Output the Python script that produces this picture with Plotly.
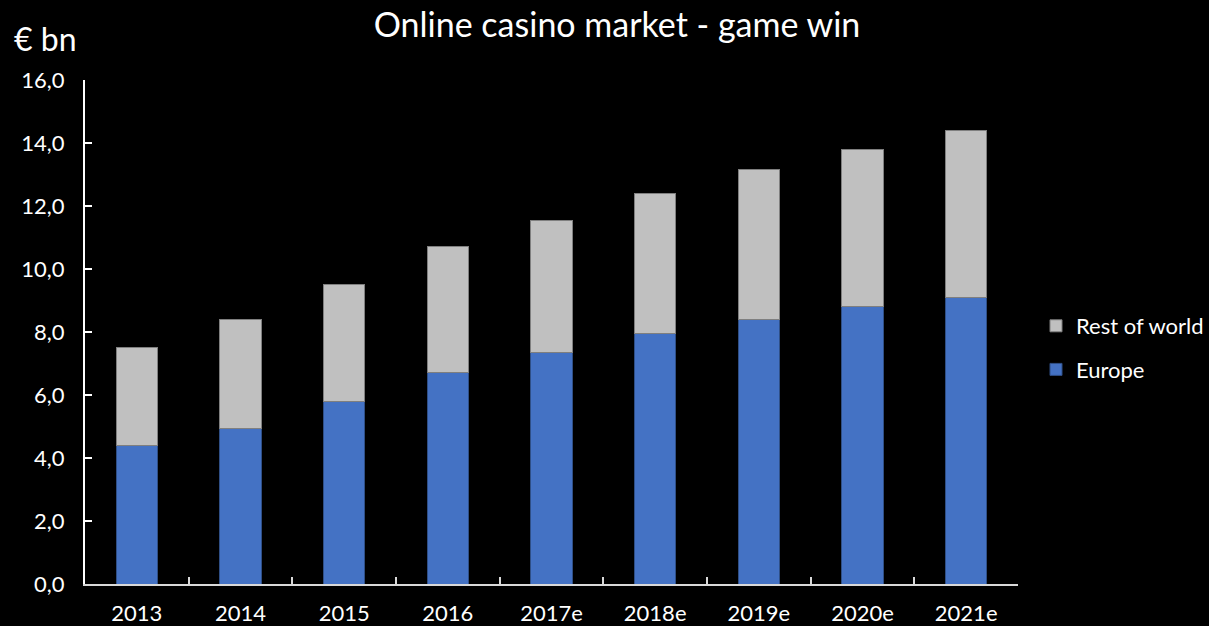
import plotly.graph_objects as go

years = ["2013", "2014", "2015", "2016", "2017e", "2018e", "2019e", "2020e", "2021e"]
europe = [4.4, 4.95, 5.8, 6.7, 7.35, 7.95, 8.4, 8.8, 9.1]
rest_of_world = [3.1, 3.45, 3.7, 4.0, 4.2, 4.45, 4.75, 5.0, 5.3]
y_ticks = [0, 2, 4, 6, 8, 10, 12, 14, 16]
y_tick_labels = ["0,0", "2,0", "4,0", "6,0", "8,0", "10,0", "12,0", "14,0", "16,0"]

FONT = "Lato, Open Sans, sans-serif"

fig = go.Figure()
fig.add_trace(go.Bar(
    x=years, y=europe, name="Europe", legendgroup="eu", legendrank=2,
    marker=dict(color="#4472c4", line=dict(color="#2f4f86", width=1)),
))
fig.add_trace(go.Bar(
    x=years, y=rest_of_world, name="Rest of world", legendgroup="row", legendrank=1,
    marker=dict(color="#c0c0c0", line=dict(color="#7f7f7f", width=1)),
))

fig.update_layout(
    width=1209, height=626,
    paper_bgcolor="black", plot_bgcolor="black",
    barmode="stack", bargap=0.6,
    margin=dict(l=85, r=191, t=80, b=42, autoexpand=False),
    font=dict(family=FONT, color="white", size=22),
    title=dict(text="Online casino market - game win", x=617 / 1209, xanchor="center",
               xref="container", yref="container",
               y=1 - 25 / 626, yanchor="middle", font=dict(size=34, color="white", family=FONT)),
    legend=dict(xref="container", yref="container",
                x=1036 / 1209, y=1 - 348 / 626, xanchor="left", yanchor="middle",
                traceorder="grouped", tracegroupgap=12,
                font=dict(size=22, color="white", family=FONT),
                itemwidth=30, bgcolor="rgba(0,0,0,0)"),
    showlegend=True,
)
fig.update_xaxes(
    showline=True, linecolor="#d9d9d9", linewidth=2,
    ticks="inside", ticklen=7, tickcolor="#d9d9d9", tickwidth=2,
    tickson="boundaries", showgrid=False, ticklabelstandoff=9,
    tickfont=dict(size=22, color="white"),
)
fig.update_yaxes(
    range=[0, 16], tickvals=y_ticks, ticktext=y_tick_labels,
    showline=True, linecolor="white", linewidth=2,
    ticks="inside", ticklen=7, tickcolor="white", tickwidth=2,
    showgrid=False, zeroline=False, ticklabelstandoff=14,
    tickfont=dict(size=22, color="white"),
)
fig.add_annotation(text="€ bn", xref="paper", yref="paper", x=(12 - 85) / 933, y=(584 - 38) / 504,
                   xanchor="left", yanchor="middle", showarrow=False,
                   font=dict(size=32, color="white", family=FONT))

fig.write_html("out.html")
